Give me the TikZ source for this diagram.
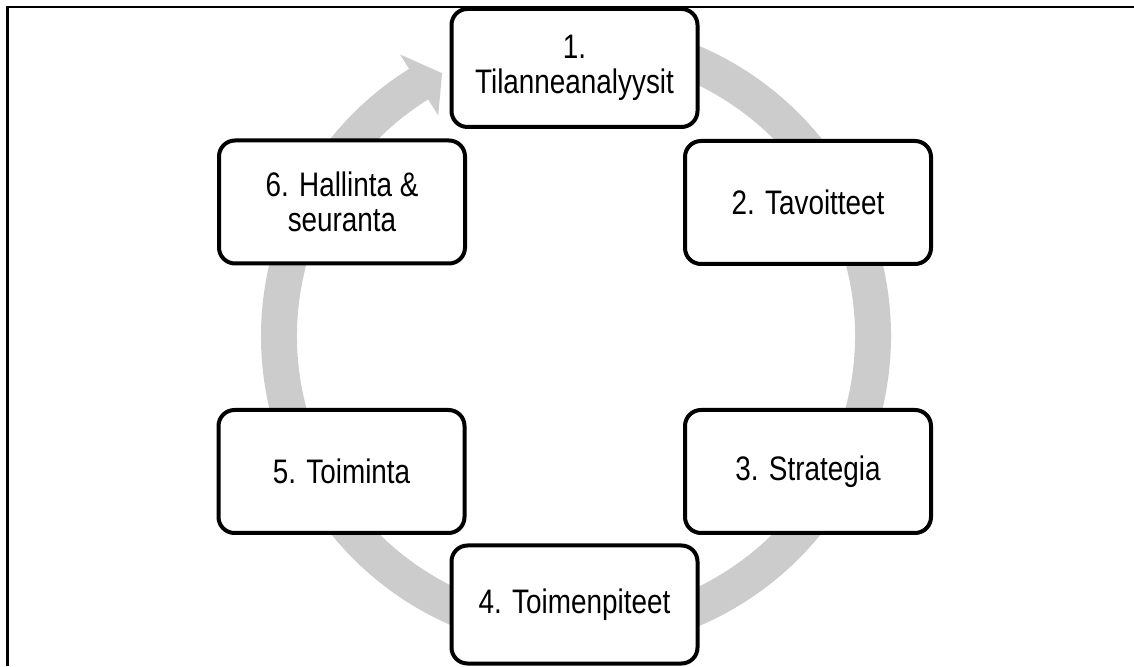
\documentclass[tikz,border=0pt]{standalone}
\usepackage{fontspec}
\setmainfont{Liberation Sans}[FakeStretch=0.82]
\begin{document}
\begin{tikzpicture}[x=1pt,y=1pt,
  stage/.style={draw=black, line width=4pt, fill=white, rounded corners=16pt,
    minimum width=246pt, minimum height=123pt, align=center, inner sep=0pt,
    font=\fontsize{34}{35}\selectfont},
  stagelow/.style={stage, minimum height=118pt}]
\useasboundingbox (0,0) rectangle (1134,666);
\definecolor{ringgray}{RGB}{204,204,204}
% outer frame (only its left and top sides fall on the page)
\draw[line width=2.5pt] (7.5,0) -- (7.5,659) -- (1134,659);
% circular arrow running clockwise behind the stages
\begin{scope}[shift={(576,330)}]
  \fill[ringgray] (85:315) arc[start angle=85, end angle=-238, radius=315]
    -- (-238:332) -- (-243:295) -- (-238:260) -- (-238:279)
    arc[start angle=-238, end angle=85, radius=279] -- cycle;
\end{scope}
% the six stages
\node[stagelow] (s1) at (574.5,598) {1.\\Tilanneanalyysit};
\node[stage] (s2) at (808,463.5) {2. Tavoitteet};
\node[stage] (s3) at (808,194.5) {3. Strategia};
\node[stagelow] (s4) at (574.5,61.5) {4. Toimenpiteet};
\node[stage] (s5) at (341.5,194.5) {5. Toiminta};
\node[stage] (s6) at (342,464) {6. Hallinta \&\\seuranta};
\end{tikzpicture}
\end{document}
